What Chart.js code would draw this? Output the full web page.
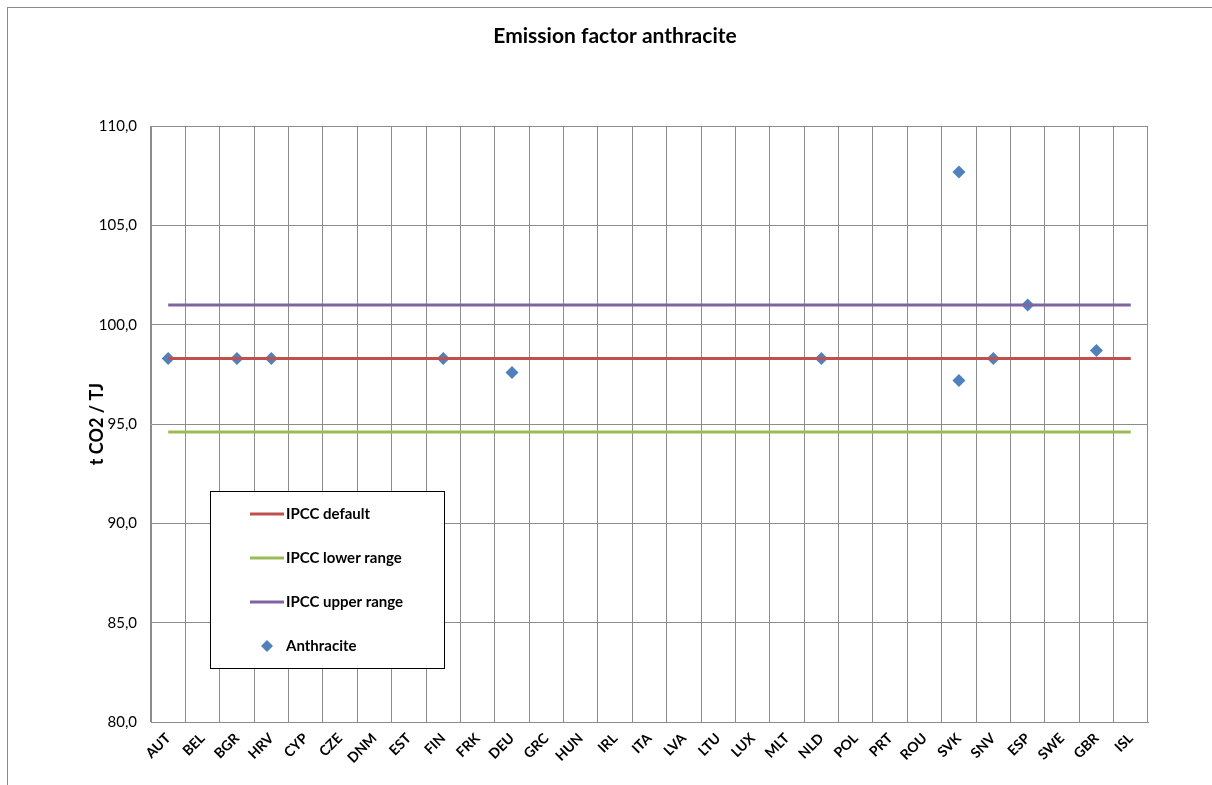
<!DOCTYPE html>
<html>
<head>
<meta charset="utf-8">
<script src="https://cdn.jsdelivr.net/npm/chart.js@4"></script>
<style>
  html, body { margin: 0; padding: 0; background: #fff; }
  #wrap { width: 1212px; height: 785px; }
</style>
</head>
<body>
<div id="wrap"><canvas id="efChart"></canvas></div>
<script>
// Categories on the x axis
const countries = ['AUT', 'BEL', 'BGR', 'HRV', 'CYP', 'CZE', 'DNM', 'EST', 'FIN', 'FRK', 'DEU', 'GRC', 'HUN', 'IRL',
  'ITA', 'LVA', 'LTU', 'LUX', 'MLT', 'NLD', 'POL', 'PRT', 'ROU', 'SVK', 'SNV', 'ESP', 'SWE', 'GBR', 'ISL'];

// IPCC reference levels (t CO2 / TJ)
const ipccDefault = [98.3, 98.3];
const ipccLower = [94.6, 94.6];
const ipccUpper = [101.0, 101.0];

// Reported anthracite factors
const anthraciteCountries = ['AUT', 'BGR', 'HRV', 'FIN', 'DEU', 'NLD', 'SVK', 'SVK', 'SNV', 'ESP', 'GBR'];
const anthraciteValues = [98.3, 98.3, 98.3, 98.3, 97.6, 98.3, 107.7, 97.2, 98.3, 101.0, 98.7];

const yTicks = [80, 85, 90, 95, 100, 105, 110];

const FONT = 'Lato, "Open Sans", sans-serif';
const GRID = '#8c8c8c';

function levelLine(label, values, color) {
  return {
    type: 'line',
    label: label,
    data: [
      { x: countries[0], y: values[0] },
      { x: countries[countries.length - 1], y: values[1] }
    ],
    borderColor: color,
    backgroundColor: color,
    borderWidth: 3,
    pointRadius: 0,
    fill: false,
    tension: 0
  };
}

// frame around the whole chart object
const framePlugin = {
  id: 'frame',
  beforeDraw(chart) {
    const ctx = chart.ctx;
    ctx.save();
    ctx.fillStyle = '#fff';
    ctx.fillRect(0, 0, chart.width, chart.height);
    ctx.strokeStyle = '#8a8a8a';
    ctx.lineWidth = 1;
    ctx.strokeRect(7.5, 7.5, 1400, 1000);
    ctx.restore();
  }
};

// legend box drawn inside the plot area
const boxLegend = {
  id: 'boxLegend',
  afterDraw(chart) {
    const ctx = chart.ctx;
    const x0 = 210.5, y0 = 491.5, w = 234, h = 177;
    ctx.save();
    ctx.fillStyle = '#fff';
    ctx.fillRect(x0, y0, w, h);
    ctx.strokeStyle = '#000';
    ctx.lineWidth = 1;
    ctx.strokeRect(x0, y0, w, h);
    ctx.font = 'bold 15px ' + FONT;
    ctx.textBaseline = 'middle';
    ctx.textAlign = 'left';
    chart.data.datasets.forEach((ds, i) => {
      const y = 514 + i * 44;
      if (ds.showLine === false) {
        ctx.fillStyle = ds.backgroundColor;
        ctx.beginPath();
        ctx.moveTo(267, y - 6);
        ctx.lineTo(273, y);
        ctx.lineTo(267, y + 6);
        ctx.lineTo(261, y);
        ctx.closePath();
        ctx.fill();
      } else {
        ctx.strokeStyle = ds.borderColor;
        ctx.lineWidth = 3;
        ctx.beginPath();
        ctx.moveTo(250, y);
        ctx.lineTo(284, y);
        ctx.stroke();
      }
      ctx.fillStyle = '#000';
      ctx.fillText(ds.label, 286, y);
    });
    ctx.restore();
  }
};

new Chart(document.getElementById('efChart'), {
  type: 'line',
  data: {
    labels: countries,
    datasets: [
      levelLine('IPCC default', ipccDefault, '#C0504D'),
      levelLine('IPCC lower range', ipccLower, '#9BBB59'),
      levelLine('IPCC upper range', ipccUpper, '#8064A2'),
      {
        type: 'line',
        label: 'Anthracite',
        data: anthraciteCountries.map((c, i) => ({ x: c, y: anthraciteValues[i] })),
        showLine: false,
        backgroundColor: '#4F81BD',
        borderColor: '#4F81BD',
        pointStyle: 'rectRot',
        pointRadius: 6.5,
        pointBorderWidth: 0
      }
    ]
  },
  options: {
    responsive: true,
    maintainAspectRatio: false,
    animation: false,
    layout: { padding: { left: 82, right: 64, top: 0, bottom: 0 } },
    plugins: {
      legend: { display: false },
      tooltip: { enabled: false },
      title: {
        display: true,
        text: 'Emission factor anthracite',
        color: '#000',
        font: { family: FONT, size: 21, weight: 'bold' },
        padding: { top: 24, bottom: 77 }
      }
    },
    scales: {
      x: {
        type: 'category',
        offset: true,
        grid: { offset: true, color: GRID, drawTicks: false },
        border: { color: GRID },
        ticks: {
          color: '#000',
          font: { family: FONT, size: 14, weight: 'bold' },
          maxRotation: 45,
          minRotation: 45,
          autoSkip: false,
          padding: 8
        },
        afterFit(scale) { scale.height = 63; }
      },
      y: {
        min: 80,
        max: 110,
        afterBuildTicks(scale) { scale.ticks = yTicks.map(v => ({ value: v })); },
        grid: { color: GRID, drawTicks: false },
        border: { color: GRID },
        ticks: {
          color: '#000',
          font: { family: FONT, size: 15 },
          padding: 14,
          callback: v => v.toFixed(1).replace('.', ',')
        },
        title: {
          display: true,
          text: 't CO2 / TJ',
          color: '#000',
          font: { family: FONT, size: 18, weight: 'bold' }
        },
        afterFit(scale) { scale.width = 69; }
      }
    }
  },
  plugins: [framePlugin, boxLegend]
});
</script>
</body>
</html>
